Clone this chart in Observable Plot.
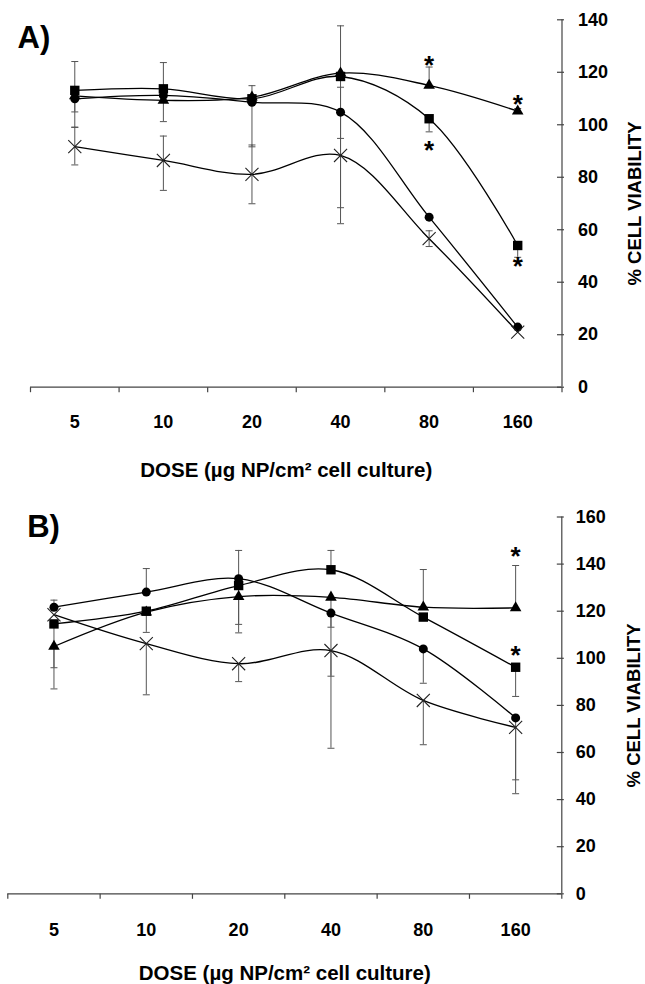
<!DOCTYPE html>
<html><head><meta charset="utf-8">
<script src="https://cdn.jsdelivr.net/npm/d3@7"></script>
<script src="https://cdn.jsdelivr.net/npm/@observablehq/plot@0.6"></script>
<style>
html,body{margin:0;padding:0;background:#fff;}
#chart svg{display:block;}
</style></head><body><div id="chart"></div>
<script>
// ---------- data ----------
const doses = ["5", "10", "20", "40", "80", "160"];
const xTitle = "DOSE (µg NP/cm² cell culture)";
const yTitle = "% CELL VIABILITY";

// Panel A
const yTicksA = [0, 20, 40, 60, 80, 100, 120, 140];
const aSquare   = [113.1, 113.7, 109.9, 118.4, 102.3, 54.0];
const aTriangle = [111.0, 109.3, 110.5, 119.7, 115.0, 105.2];
const aCircle   = [109.9, 111.2, 108.6, 104.8, 64.8, 22.9];
const aCross    = [91.7, 86.4, 81.1, 88.3, 56.6, 21.0];
const aSquareUp     = [11, 10, 5, 0, 0, 0];
const aSquareDown   = [0, 0, 0, 50, 5, 4.5];
const aTriangleUp   = [0, 0, 0, 18, 7, 1];
const aTriangleDown = [12, 0, 0, 0, 0, 0];
const aCircleUp     = [0, 0, 0, 0, 0, 0];
const aCircleDown   = [5, 10, 17, 10, 0, 0];
const aCrossUp      = [7.4, 9.3, 11.2, 26, 3, 0];
const aCrossDown    = [7, 11.4, 11.2, 26, 3, 0];
const aStarDose  = ["80", "80", "160", "160"];
const aStarValue = [123.6, 91.5, 109, 47];

// Panel B
const yTicksB = [0, 20, 40, 60, 80, 100, 120, 140, 160];
const bSquare   = [114.6, 120.0, 130.9, 137.6, 117.5, 96.2];
const bTriangle = [105.0, 119.6, 126.2, 125.9, 121.7, 121.4];
const bCircle   = [121.7, 128.1, 133.8, 119.2, 104.0, 74.7];
const bCross    = [118.5, 106.2, 97.7, 103.3, 82.1, 70.7];
const bSquareUp     = [0, 0, 0, 8.2, 0, 0];
const bSquareDown   = [18.6, 9, 16.5, 0, 0, 12.4];
const bTriangleUp   = [0, 0, 0, 0, 16, 18];
const bTriangleDown = [18, 0, 15.4, 33.5, 0, 0];
const bCircleUp     = [3, 10, 12, 0, 0, 0];
const bCircleDown   = [0, 0, 0, 6, 14.6, 26.3];
const bCrossUp      = [0, 0, 0, 0, 0, 0];
const bCrossDown    = [0, 21.7, 7.6, 41.5, 18.8, 28.2];
const bStarDose  = ["160", "160"];
const bStarValue = [144.5, 102.6];

// ---------- helpers ----------
const FONT = "'Liberation Sans', Arial, Helvetica, sans-serif";
const hCap = {draw(ctx) { ctx.moveTo(-3.5, 0); ctx.lineTo(3.5, 0); }};
const vTick = {draw(ctx) { ctx.moveTo(0, 0); ctx.lineTo(0, 5); }};
const yTick = {draw(ctx) { ctx.moveTo(-5, 0); ctx.lineTo(2, 0); }};

const styles = {
  square:   {symbol: "square",   r: 5.3, fill: "black", stroke: "none"},
  triangle: {symbol: "triangle", r: 4.3, fill: "black", stroke: "none"},
  circle:   {symbol: "circle",   r: 4.5, fill: "black", stroke: "none"},
  cross:    {symbol: "times",    r: 6.0, fill: "none",  stroke: "#222", strokeWidth: 1.1}
};

function buildRows(spec) {
  const rows = [];
  for (const [name, vals, up, down] of spec) {
    vals.forEach((v, i) => rows.push({series: name, i, dose: doses[i], value: v, up: up[i], down: down[i]}));
  }
  return rows;
}

function panel(o) {
  const n = doses.length;
  const rows = buildRows(o.spec);
  const xc = d => doses.indexOf(d.dose) + 0.5;
  const bars = rows.filter(d => d.up > 0 || d.down > 0);
  const caps = [];
  for (const d of bars) {
    if (d.up > 0) caps.push({dose: d.dose, y: d.value + d.up});
    if (d.down > 0) caps.push({dose: d.dose, y: d.value - d.down});
  }
  const stars = o.starDose.map((d, k) => ({dose: d, y: o.starValue[k]}));
  const yT = o.yTicks;
  return Plot.plot({
    width: 645,
    height: o.height,
    marginTop: o.mt, marginBottom: o.mb, marginLeft: o.ml, marginRight: o.mr,
    x: {domain: [0, n], axis: null},
    y: {domain: [yT[0], yT[yT.length - 1]], axis: null},
    style: {fontFamily: FONT, background: "white", color: "black"},
    marks: [
      // axes lines
      Plot.ruleY([yT[0]], {stroke: "#444", strokeWidth: 1.2}),
      Plot.ruleX([n], {y1: yT[0], y2: yT[yT.length - 1], stroke: "#444", strokeWidth: 1.2}),
      Plot.dot(d3.range(n + 1), {x: d => d, frameAnchor: "bottom", symbol: vTick, stroke: "#444", fill: "none", strokeWidth: 1.2}),
      Plot.dot(yT, {y: d => d, frameAnchor: "right", symbol: yTick, stroke: "#444", fill: "none", strokeWidth: 1.2}),
      // tick labels
      Plot.text(yT, {y: d => d, frameAnchor: "right", text: d => String(d), textAnchor: "start", lineAnchor: "middle", dx: o.yLabDx, fontSize: 18, fontWeight: "bold"}),
      Plot.text(doses, {x: (d, i) => i + 0.5, frameAnchor: "bottom", text: d => d, textAnchor: "middle", lineAnchor: "bottom", dy: o.xLabDy, fontSize: 18, fontWeight: "bold"}),
      // titles
      Plot.text([xTitle], {frameAnchor: "bottom", textAnchor: "middle", lineAnchor: "bottom", dx: o.titleDx, dy: o.titleDy, fontSize: 20.5, fontWeight: "bold"}),
      Plot.text([yTitle], {frameAnchor: "right", rotate: -90, textAnchor: "middle", lineAnchor: "middle", dx: o.yTitleDx, fontSize: 18.5, fontWeight: "bold"}),
      Plot.text([o.label], {frameAnchor: "top-left", textAnchor: "start", lineAnchor: "bottom", dx: o.labDx, dy: o.labDy, fontSize: 31, fontWeight: "bold"}),
      // error bars
      Plot.ruleX(bars, {x: xc, y1: d => d.value - d.down, y2: d => d.value + d.up, stroke: "#555", strokeWidth: 1}),
      Plot.dot(caps, {x: xc, y: "y", symbol: hCap, stroke: "#555", fill: "none", strokeWidth: 1}),
      // lines
      Plot.line(rows, {x: xc, y: "value", z: "series", curve: "catmull-rom", stroke: "black", strokeWidth: 1.3}),
      // markers
      ...Object.entries(styles).map(([name, s]) =>
        Plot.dot(rows.filter(d => d.series === name), {x: xc, y: "value", ...s})),
      // significance stars
      Plot.text(stars, {x: xc, y: "y", text: () => "*", textAnchor: "middle", lineAnchor: "bottom", dy: 11.5, fontSize: 26, fontWeight: "bold"})
    ]
  });
}

const chartA = panel({
  label: "A)",
  height: 486, mt: 19.3, mb: 99.3, ml: 30, mr: 83.5,
  yTicks: yTicksA,
  spec: [
    ["square", aSquare, aSquareUp, aSquareDown],
    ["triangle", aTriangle, aTriangleUp, aTriangleDown],
    ["circle", aCircle, aCircleUp, aCircleDown],
    ["cross", aCross, aCrossUp, aCrossDown]
  ],
  starDose: aStarDose, starValue: aStarValue,
  yLabDx: 16, xLabDy: 40.3, titleDx: -10, titleDy: 90, yTitleDx: 73, labDx: -13, labDy: 28
});

const chartB = panel({
  label: "B)",
  height: 498, mt: 30.5, mb: 90.7, ml: 7.3, mr: 83.7,
  yTicks: yTicksB,
  spec: [
    ["square", bSquare, bSquareUp, bSquareDown],
    ["triangle", bTriangle, bTriangleUp, bTriangleDown],
    ["circle", bCircle, bCircleUp, bCircleDown],
    ["cross", bCross, bCrossUp, bCrossDown]
  ],
  starDose: bStarDose, starValue: bStarValue,
  yLabDx: 14, xLabDy: 41.7, titleDx: 0, titleDy: 86, yTitleDx: 72, labDx: 19.4, labDy: 20.2
});

const root = document.getElementById("chart");
root.appendChild(chartA);
root.appendChild(chartB);
</script></body></html>
